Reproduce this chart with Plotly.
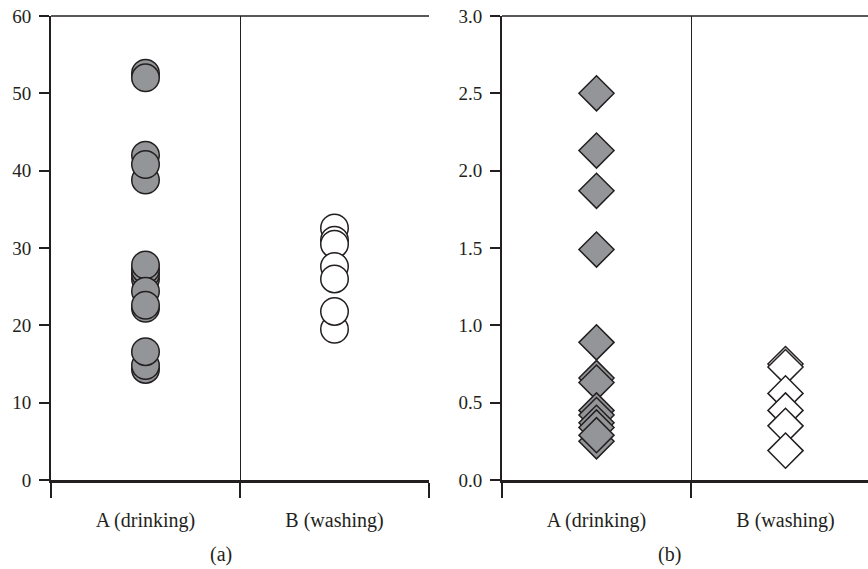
import plotly.graph_objects as go

categories = ["A (drinking)", "B (washing)"]
panel_labels = ["(a)", "(b)"]

# Panel (a) values (circles)
a_drinking = [52.6, 52.0, 38.8, 42.0, 40.8, 26.0, 26.6, 27.2, 27.8, 24.4, 22.2, 22.6, 14.3, 14.8, 16.6]
a_washing = [32.6, 31.0, 30.5, 27.6, 26.0, 19.5, 21.8]

# Panel (b) values (diamonds)
b_drinking = [2.50, 2.13, 1.87, 1.49, 0.89, 0.66, 0.63, 0.45, 0.42, 0.37, 0.34, 0.25, 0.29]
b_washing = [0.75, 0.73, 0.56, 0.45, 0.35, 0.19]

a_ticks = [0, 10, 20, 30, 40, 50, 60]
b_ticks = [0.0, 0.5, 1.0, 1.5, 2.0, 2.5, 3.0]

W, H = 868, 569
INK = "#231f20"
GRAY = "#949598"
FONT = "Liberation Serif"

def px(xp):
    return xp / W

def py(yp):
    return 1 - yp / H

fig = go.Figure()

def add(xidx, yvals, xref, yref, symbol, size, fill):
    fig.add_trace(go.Scatter(
        x=[xidx] * len(yvals), y=yvals, mode="markers",
        xaxis=xref, yaxis=yref, showlegend=False, hoverinfo="y",
        marker=dict(symbol=symbol, size=size, color=fill,
                    line=dict(color=INK, width=1.5)),
    ))

add(0, a_drinking, "x", "y", "circle", 27.5, GRAY)
add(1, a_washing, "x", "y", "circle", 27.5, "white")
add(0, b_drinking, "x2", "y2", "diamond", 27, GRAY)
add(1, b_washing, "x2", "y2", "diamond", 27, "white")

ydom = [py(480), py(16)]
unit_px = (429 - 51) / 2.0
b_right = -0.5 + (W - 502) / unit_px

def xaxis_cfg(domain, rng):
    return dict(
        domain=domain, range=rng, tickmode="array", tickvals=[0, 1], ticktext=categories,
        ticks="", showline=True, linecolor=INK, linewidth=2.5, showgrid=False, zeroline=False,
        tickfont=dict(family=FONT, size=20, color=INK), ticklabelstandoff=20,
        ticklabeloverflow="allow",
        minor=dict(tickmode="array", tickvals=[-0.5, 0.5, 1.5], ticks="outside", ticklen=15,
                   tickwidth=1.5, tickcolor=INK, showgrid=True, gridcolor=INK, gridwidth=1.2),
        fixedrange=True, automargin=False,
    )

def yaxis_cfg(rng, ticks, fmt, anchor):
    return dict(
        domain=ydom, range=rng, tickmode="array", tickvals=ticks,
        ticktext=[fmt.format(t) for t in ticks], ticks="outside", ticklen=10, tickwidth=1.5,
        tickcolor=INK, showline=True, linecolor=INK, linewidth=2, showgrid=False, zeroline=False,
        tickfont=dict(family=FONT, size=19, color=INK), ticklabelstandoff=4, anchor=anchor,
        ticklabeloverflow="allow", fixedrange=True, automargin=False,
    )

fig.update_layout(
    width=W, height=H, margin=dict(l=0, r=0, t=0, b=0, autoexpand=False),
    plot_bgcolor="white", paper_bgcolor="white",
    xaxis=xaxis_cfg([px(51), px(429)], [-0.5, 1.5]) | dict(anchor="y"),
    xaxis2=xaxis_cfg([px(502), 1.0], [-0.5, b_right]) | dict(anchor="y2"),
    yaxis=yaxis_cfg([0, 60], a_ticks, "{:.0f}", "x"),
    yaxis2=yaxis_cfg([0, 3], b_ticks, "{:.1f}", "x2"),
    shapes=[
        dict(type="line", xref="x domain", yref="y domain", x0=0, x1=1, y0=1, y1=1,
             line=dict(color=INK, width=1.5)),
        dict(type="line", xref="x2 domain", yref="y2 domain", x0=0, x1=1, y0=1, y1=1,
             line=dict(color=INK, width=1.5)),
    ],
    annotations=[
        dict(text=panel_labels[0], x=px(221), y=py(554), xref="paper", yref="paper",
             xanchor="center", yanchor="middle",
             showarrow=False, font=dict(family=FONT, size=20, color=INK)),
        dict(text=panel_labels[1], x=px(669), y=py(554), xref="paper", yref="paper",
             xanchor="center", yanchor="middle",
             showarrow=False, font=dict(family=FONT, size=20, color=INK)),
    ],
)

fig.write_html("out.html", config={"displayModeBar": False},
               post_script="document.body.style.margin='0';")
